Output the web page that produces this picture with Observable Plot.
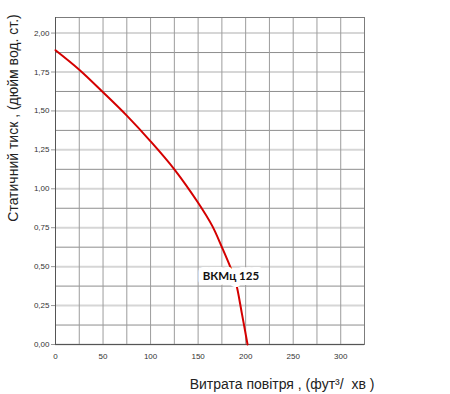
<!DOCTYPE html>
<html>
<head>
<meta charset="utf-8">
<script src="https://cdn.jsdelivr.net/npm/d3@7"></script>
<script src="https://cdn.jsdelivr.net/npm/@observablehq/plot@0.6"></script>
<style>
  html, body { margin: 0; padding: 0; background: #fff; }
</style>
</head>
<body>
<div id="chart"></div>
<script>
// Fan curve ВКМц 125: air flow (ft³/min) vs static pressure (in. water)
const flow     = [0, 25, 50, 75, 100, 125, 150, 165, 175, 185, 190, 196, 202];
const pressure = [1.89, 1.765, 1.62, 1.47, 1.305, 1.125, 0.91, 0.76, 0.625, 0.48, 0.39, 0.2, 0];

const xTicks = [0, 50, 100, 150, 200, 250, 300];
const xGrid  = [25, 50, 75, 100, 125, 150, 175, 200, 225, 250, 275, 300];
const yTicks = [0, 0.25, 0.5, 0.75, 1, 1.25, 1.5, 1.75, 2];
const yMinor = [0.125, 0.375, 0.625, 0.875, 1.125, 1.375, 1.625, 1.875];

const seriesName = "ВКМц 125";
const labelAt = {flow: 184.5, pressure: 0.437};

const xTitle = "Витрата повітря , (фут³/\u00a0\u00a0хв )";
const yTitle = "Статичний тиск , (дюйм вод. ст.)";

const data = flow.map((f, i) => ({flow: f, pressure: pressure[i]}));

const chart = Plot.plot({
  width: 450,
  height: 394,
  marginLeft: 55,
  marginRight: 86,
  marginTop: 17,
  marginBottom: 50,
  style: {fontFamily: "'Liberation Sans', Arial, sans-serif", background: "#fff", color: "#333"},
  x: {domain: [0, 325]},
  y: {domain: [0, 2.1]},
  marks: [
    Plot.ruleY(yMinor, {stroke: "#8e8e8e", strokeWidth: 1}),
    Plot.ruleY(yTicks, {stroke: "#d6d6d6", strokeWidth: 2}),
    Plot.ruleX(xGrid, {stroke: "#9c9c9c", strokeWidth: 1}),
    Plot.frame({stroke: "#7c7c7c"}),
    Plot.ruleX([0], {stroke: "#555"}),
    Plot.ruleY([0], {stroke: "#555"}),
    Plot.line(data, {x: "flow", y: "pressure", curve: "catmull-rom", stroke: "#d40000", strokeWidth: 2}),
    Plot.text([labelAt], {
      x: "flow", y: "pressure", text: () => seriesName,
      fontFamily: "Lato, 'Open Sans', sans-serif", fontWeight: "bold", fontSize: 11.5,
      fill: "#111", stroke: "#fff", strokeWidth: 10, strokeLinejoin: "round"
    }),
    Plot.axisX({ticks: xTicks, tickSize: 0, tickPadding: 9, fontSize: 8, label: null, fill: "#333"}),
    Plot.axisY({ticks: yTicks, tickSize: 4, tickPadding: 2, fontSize: 8, label: null, stroke: "#999", fill: "#333",
      tickFormat: d => d.toFixed(2).replace(".", ",")}),
    Plot.text([yTitle], {frameAnchor: "left", textAnchor: "middle", rotate: -90, dx: -42, dy: -63, fontSize: 14, fill: "#222", text: d => d}),
    Plot.text([xTitle], {frameAnchor: "bottom", textAnchor: "middle", dx: 72, dy: 44, fontSize: 14, fill: "#222", text: d => d})
  ]
});

document.getElementById("chart").appendChild(chart);
</script>
</body>
</html>
